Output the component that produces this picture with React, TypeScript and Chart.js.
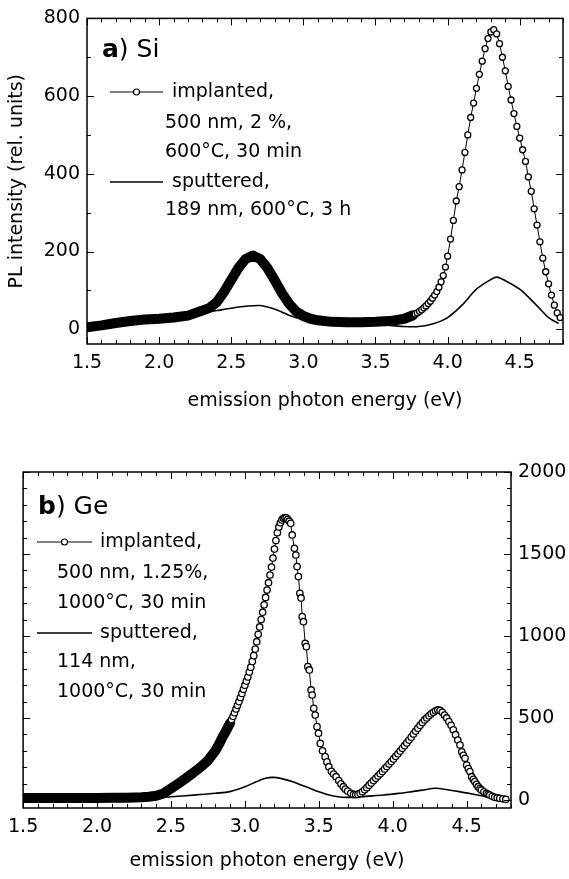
import React, { useEffect, useRef } from "react";
import { Chart, registerables } from "chart.js";

Chart.register(...registerables);

const FONT = "'DejaVu Sans', sans-serif";

// ---------- axis ticks ----------
const xTicks = [1.5, 2.0, 2.5, 3.0, 3.5, 4.0, 4.5];
const siYTicks = [0, 200, 400, 600, 800];
const geYTicks = [0, 500, 1000, 1500, 2000];

// ---------- a) Si : implanted (circles) ----------
const siImpE = [
  1.5, 1.6, 1.7, 1.8, 1.9, 2.0, 2.1, 2.2, 2.3, 2.35, 2.4, 2.45, 2.5, 2.55, 2.6, 2.65, 2.7, 2.75, 2.8, 2.85,
  2.9, 2.95, 3.0, 3.05, 3.1, 3.2, 3.3, 3.4, 3.5, 3.6, 3.7, 3.76,
  3.775, 3.79, 3.805, 3.82, 3.835, 3.85, 3.865, 3.88, 3.895, 3.91, 3.925, 3.94, 3.955, 3.97, 3.985, 4.0,
  4.02, 4.04, 4.06, 4.08, 4.1, 4.12, 4.14, 4.16, 4.18, 4.2, 4.22, 4.24, 4.26, 4.28, 4.3, 4.32, 4.34, 4.36,
  4.38, 4.4, 4.42, 4.44, 4.46, 4.48, 4.5, 4.52, 4.54, 4.56, 4.58, 4.6, 4.62, 4.64, 4.66, 4.68, 4.7, 4.72,
  4.74, 4.76, 4.78,
];
const siImpI = [
  5, 10, 16, 21, 25, 27, 30, 35, 48, 55, 70, 96, 127, 158, 181, 190, 181, 158, 127, 94,
  66, 46, 34, 27, 23, 19, 18, 18, 19, 21, 27, 36,
  39, 42, 46, 50, 55, 60, 66, 72, 80, 88, 97, 108, 122, 138, 160, 188,
  232, 280, 330, 367, 410, 455, 500, 545, 582, 620, 656, 690, 722, 748, 765, 771, 760, 735,
  700, 665, 625, 590, 555, 522, 492, 462, 432, 392, 355, 310, 268, 225, 183, 148, 117, 88,
  62, 42, 30,
];

// ---------- a) Si : sputtered (line) ----------
const siSpuE = [
  1.5, 1.6, 1.7, 1.8, 1.9, 2.0, 2.1, 2.2, 2.3, 2.4, 2.5, 2.6, 2.7, 2.8, 2.9, 3.0, 3.1, 3.2, 3.3, 3.4,
  3.5, 3.6, 3.7, 3.8, 3.9, 4.0, 4.1, 4.2, 4.3, 4.34, 4.4, 4.5, 4.6, 4.7, 4.77,
];
const siSpuI = [
  5, 10, 15, 20, 25, 27, 30, 36, 42, 48, 54, 59, 61, 52, 36, 25, 20, 17, 15, 14,
  12, 10, 7, 7, 14, 30, 62, 103, 128, 134, 125, 103, 68, 30, 15,
];

// ---------- b) Ge : implanted (circles) ----------
const geImpE = [
  1.5, 1.6, 1.7, 1.8, 1.9, 2.0, 2.1, 2.2, 2.3, 2.35, 2.4, 2.45, 2.5, 2.55, 2.6, 2.65, 2.7, 2.75, 2.8, 2.825,
  2.85, 2.875, 2.9,
  2.91, 2.92, 2.93, 2.94, 2.95, 2.96, 2.97, 2.98, 2.99, 3.0, 3.01, 3.02, 3.03, 3.04, 3.05, 3.06, 3.07, 3.08,
  3.09, 3.1, 3.11, 3.12, 3.13, 3.14, 3.15, 3.16, 3.17, 3.18, 3.19, 3.2, 3.21, 3.22, 3.23, 3.24, 3.25, 3.26,
  3.27, 3.28, 3.29, 3.3,
  3.31, 3.32, 3.335, 3.345, 3.353, 3.362, 3.372, 3.38, 3.388, 3.396, 3.408, 3.416, 3.426, 3.436, 3.448,
  3.455, 3.466, 3.476, 3.488, 3.498, 3.51, 3.525, 3.543, 3.555, 3.568, 3.585, 3.6, 3.617, 3.635, 3.65,
  3.666, 3.68, 3.695, 3.716, 3.735, 3.75,
  3.765, 3.78, 3.795, 3.81, 3.825, 3.84, 3.855, 3.87, 3.885, 3.9, 3.915, 3.93, 3.945, 3.96, 3.975, 3.99,
  4.005, 4.02, 4.035, 4.05, 4.065, 4.08, 4.095, 4.11, 4.125, 4.14, 4.155, 4.17, 4.185, 4.2, 4.215, 4.23,
  4.245, 4.26, 4.275, 4.29, 4.305, 4.32, 4.335, 4.35, 4.365, 4.38, 4.395, 4.41, 4.425, 4.44, 4.455, 4.467,
  4.478, 4.489, 4.5, 4.511, 4.522, 4.534, 4.545, 4.555, 4.567, 4.578, 4.59, 4.6, 4.617, 4.634, 4.645,
  4.656, 4.673, 4.69, 4.707, 4.724, 4.745, 4.765,
];
const geImpI = [
  12, 12, 12, 12, 12, 12, 13, 14, 17, 20, 26, 40, 70, 100, 132, 165, 200, 240, 300, 340,
  385, 425, 470,
  490, 510, 532, 555, 577, 600, 625, 650, 675, 700, 725, 750, 780, 810, 845, 880, 920, 965,
  1010, 1055, 1100, 1145, 1190, 1235, 1280, 1325, 1372, 1420, 1475, 1530, 1582, 1630, 1665, 1690, 1708, 1718,
  1722, 1720, 1712, 1700,
  1687, 1616, 1535, 1494, 1423, 1362, 1260, 1232, 1118, 1087, 955, 935, 813, 793, 671,
  640, 559, 518, 447, 407, 345, 300, 264, 232, 203, 175, 158, 142, 118, 98,
  81, 66, 54, 41, 34, 32,
  34, 40, 50, 62, 75, 90, 104, 118, 132, 146, 160, 174, 189, 204, 219, 234,
  250, 266, 282, 298, 315, 331, 348, 365, 383, 402, 420, 438, 455, 472, 488, 500,
  513, 525, 535, 544, 549, 546, 535, 518, 500, 478, 455, 428, 398, 365, 335, 294,
  272, 254, 213, 192, 173, 142, 126, 112, 95, 81, 70, 61, 50, 41, 35,
  30, 22, 16, 13, 10, 7, 4,
];

// ---------- b) Ge : sputtered (line) ----------
const geSpuE = [
  1.5, 1.8, 2.1, 2.4, 2.5, 2.6, 2.7, 2.8, 2.9, 3.0, 3.08, 3.14, 3.19, 3.25, 3.32, 3.38, 3.44, 3.5, 3.57, 3.63,
  3.69, 3.75, 3.82, 3.94, 4.04, 4.13, 4.2, 4.29, 4.37, 4.45, 4.54, 4.63, 4.7, 4.77,
];
const geSpuI = [
  8, 8, 9, 14, 20, 26, 33, 41, 51, 80, 112, 132, 138, 130, 112, 92, 71, 50, 30, 20,
  16, 17, 22, 30, 40, 51, 60, 71, 62, 51, 36, 20, 14, 9,
];

const zip = (xs: number[], ys: number[]) => xs.map((x, i) => ({ x, y: ys[i] }));

// ---------- plugins ----------
function makeFrame(yMinor: number, yMajor: number) {
  return {
    id: "frame",
    afterDatasetsDraw(chart: any) {
      const { ctx, chartArea: a, scales } = chart;
      const x = scales.x;
      const y = scales.y;
      ctx.save();
      ctx.strokeStyle = "#000";
      ctx.lineWidth = 1;
      const seg = (x1: number, y1: number, x2: number, y2: number) => {
        ctx.beginPath();
        ctx.moveTo(x1, y1);
        ctx.lineTo(x2, y2);
        ctx.stroke();
      };
      for (let i = 0; i < 100; i++) {
        const v = 1.5 + i * 0.1;
        if (v > x.max + 1e-9) break;
        const px = Math.round(x.getPixelForValue(v)) + 0.5;
        const L = i % 5 === 0 ? 7 : 4;
        seg(px, a.bottom, px, a.bottom - L);
        seg(px, a.top, px, a.top + L);
      }
      for (let i = 0; i < 100; i++) {
        const v = i * yMinor;
        if (v > y.max + 1e-9) break;
        const py = Math.round(y.getPixelForValue(v)) + 0.5;
        const L = v % yMajor === 0 ? 7 : 4;
        seg(a.left, py, a.left + L, py);
        seg(a.right, py, a.right - L, py);
      }
      ctx.lineWidth = 1.5;
      ctx.strokeRect(a.left, a.top, a.right - a.left, a.bottom - a.top);
      ctx.restore();
    },
  };
}

type Row = { y: number; text: string; tx: number; sample?: "circle" | "line"; x1?: number; x2?: number };

function makeAnnot(label: { x: number; y: number; bold: string; rest: string }, rows: Row[]) {
  return {
    id: "annot",
    afterDraw(chart: any) {
      const ctx = chart.ctx;
      ctx.save();
      ctx.fillStyle = "#000";
      ctx.strokeStyle = "#000";
      ctx.textBaseline = "middle";
      ctx.textAlign = "left";
      ctx.font = `bold 25px ${FONT}`;
      ctx.fillText(label.bold, label.x, label.y);
      const w = ctx.measureText(label.bold).width;
      ctx.font = `25px ${FONT}`;
      ctx.fillText(label.rest, label.x + w, label.y);
      ctx.font = `19px ${FONT}`;
      rows.forEach((r) => {
        if (r.sample && r.x1 !== undefined && r.x2 !== undefined) {
          ctx.lineWidth = r.sample === "circle" ? 1 : 1.6;
          ctx.beginPath();
          ctx.moveTo(r.x1, r.y);
          ctx.lineTo(r.x2, r.y);
          ctx.stroke();
          if (r.sample === "circle") {
            ctx.lineWidth = 1.2;
            ctx.beginPath();
            ctx.arc((r.x1 + r.x2) / 2, r.y, 3, 0, Math.PI * 2);
            ctx.fillStyle = "#fff";
            ctx.fill();
            ctx.stroke();
            ctx.fillStyle = "#000";
          }
        }
        ctx.fillText(r.text, r.tx, r.y);
      });
      ctx.restore();
    },
  };
}

function implantedDataset(e: number[], v: number[], bandEnd: number, radius: number) {
  return {
    label: "implanted",
    data: zip(e, v),
    borderColor: "#000",
    borderWidth: 1,
    borderJoinStyle: "round",
    borderCapStyle: "round",
    pointRadius: radius,
    pointBorderWidth: 1.3,
    pointBorderColor: "#000",
    pointBackgroundColor: (c: any) => (c.raw && c.raw.x <= bandEnd ? "#000" : "#fff"),
    segment: {
      borderWidth: (c: any) => (c.p1.parsed.x <= bandEnd + 1e-9 ? 10 : 1),
    },
    tension: 0,
  };
}

function sputteredDataset(e: number[], v: number[]) {
  return {
    label: "sputtered",
    data: zip(e, v),
    borderColor: "#000",
    borderWidth: 1.6,
    pointRadius: 0,
    tension: 0.3,
  };
}

const tickFont = { family: FONT, size: 19 };
const titleFont = { family: FONT, size: 19 };
const plainNumber = (v: number) => String(v);

function siConfig(): any {
  return {
    type: "line",
    data: {
      datasets: [implantedDataset(siImpE, siImpI, 3.76, 3), sputteredDataset(siSpuE, siSpuI)],
    },
    options: {
      responsive: false,
      animation: false,
      layout: { padding: { top: 16, right: 6, left: 0, bottom: 0 } },
      plugins: { legend: { display: false }, tooltip: { enabled: false } },
      scales: {
        x: {
          type: "linear",
          min: 1.5,
          max: 4.8,
          grid: { display: false, drawTicks: false },
          border: { display: false },
          ticks: { font: tickFont, color: "#000", padding: 8, maxRotation: 0, autoSkip: false, callback: (v: number) => v.toFixed(1) },
          afterBuildTicks: (s: any) => { s.ticks = xTicks.map((value) => ({ value })); },
          afterFit: (s: any) => { s.height = 96; },
          title: { display: true, text: "emission photon energy (eV)", font: titleFont, color: "#000", padding: { top: 0, bottom: 28 } },
        },
        y: {
          type: "linear",
          min: -38,
          max: 800,
          grid: { display: false, drawTicks: false },
          border: { display: false },
          ticks: { font: tickFont, color: "#000", padding: 7, callback: plainNumber },
          afterBuildTicks: (s: any) => { s.ticks = siYTicks.map((value) => ({ value })); },
          afterFit: (s: any) => { s.width = 87; },
          title: { display: true, text: "PL intensity (rel. units)", font: titleFont, color: "#000", padding: { top: 6, bottom: 0 } },
        },
      },
    },
    plugins: [
      makeFrame(100, 200),
      makeAnnot({ x: 102, y: 50, bold: "a", rest: ") Si" }, [
        { y: 92, text: "implanted,", tx: 172, sample: "circle", x1: 110, x2: 163 },
        { y: 123, text: "500 nm, 2 %,", tx: 165 },
        { y: 152, text: "600°C, 30 min", tx: 165 },
        { y: 182, text: "sputtered,", tx: 172, sample: "line", x1: 110, x2: 163 },
        { y: 210, text: "189 nm, 600°C, 3 h", tx: 165 },
      ]),
    ],
  };
}

function geConfig(): any {
  return {
    type: "line",
    data: {
      datasets: [implantedDataset(geImpE, geImpI, 2.9, 3.2), sputteredDataset(geSpuE, geSpuI)],
    },
    options: {
      responsive: false,
      animation: false,
      layout: { padding: { top: 32, right: 0, left: 22, bottom: 0 } },
      plugins: { legend: { display: false }, tooltip: { enabled: false } },
      scales: {
        x: {
          type: "linear",
          min: 1.5,
          max: 4.8,
          grid: { display: false, drawTicks: false },
          border: { display: false },
          ticks: { font: tickFont, color: "#000", padding: 8, maxRotation: 0, autoSkip: false, callback: (v: number) => v.toFixed(1) },
          afterBuildTicks: (s: any) => { s.ticks = xTicks.map((value) => ({ value })); },
          afterFit: (s: any) => { s.height = 71; },
          title: { display: true, text: "emission photon energy (eV)", font: titleFont, color: "#000", padding: { top: 0, bottom: 7 } },
        },
        y: {
          type: "linear",
          position: "right",
          min: -49,
          max: 2000,
          grid: { display: false, drawTicks: false },
          border: { display: false },
          ticks: { font: tickFont, color: "#000", padding: 7, callback: plainNumber },
          afterBuildTicks: (s: any) => { s.ticks = geYTicks.map((value) => ({ value })); },
          afterFit: (s: any) => { s.width = 58; },
        },
      },
    },
    plugins: [
      makeFrame(100, 500),
      makeAnnot({ x: 38, y: 67, bold: "b", rest: ") Ge" }, [
        { y: 102, text: "implanted,", tx: 100, sample: "circle", x1: 37, x2: 92 },
        { y: 133, text: "500 nm, 1.25%,", tx: 57 },
        { y: 163, text: "1000°C, 30 min", tx: 57 },
        { y: 193, text: "sputtered,", tx: 100, sample: "line", x1: 37, x2: 92 },
        { y: 222, text: "114 nm,", tx: 57 },
        { y: 252, text: "1000°C, 30 min", tx: 57 },
      ]),
    ],
  };
}

function Panel({ make, height }: { make: () => any; height: number }) {
  const ref = useRef<HTMLCanvasElement>(null);
  useEffect(() => {
    if (!ref.current) return;
    const chart = new Chart(ref.current, make());
    return () => chart.destroy();
  }, []);
  return <canvas ref={ref} width={569} height={height} style={{ display: "block", width: 569, height }} />;
}

export default function App() {
  Chart.defaults.font.family = FONT;
  Chart.defaults.color = "#000";
  return (
    <div style={{ position: "absolute", left: 0, top: 0, width: 569, height: 879, background: "#fff" }}>
      <Panel make={siConfig} height={440} />
      <Panel make={geConfig} height={439} />
    </div>
  );
}
